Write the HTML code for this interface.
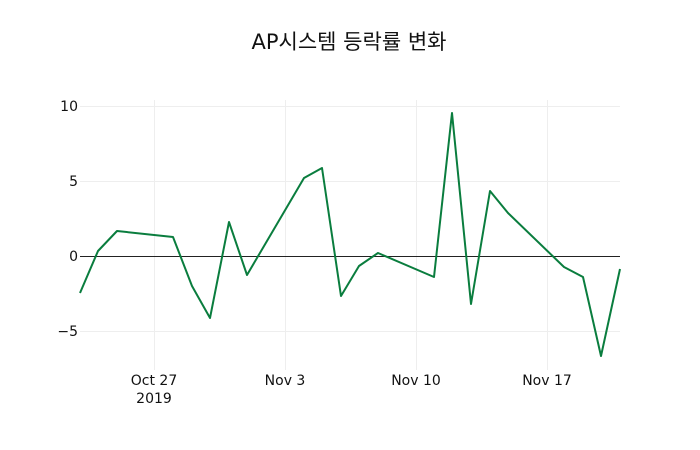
<!DOCTYPE html>
<html><head><meta charset="utf-8"><style>body{margin:0;background:#fff}svg{display:block}</style></head><body>
<svg width="700" height="450" xmlns="http://www.w3.org/2000/svg" font-family="'DejaVu Sans','Noto Sans CJK KR',sans-serif">
<rect width="700" height="450" fill="#fff"/>
<g stroke="#eee" stroke-width="1">
<line x1="154.5" y1="100" x2="154.5" y2="370"/><line x1="285.5" y1="100" x2="285.5" y2="370"/>
<line x1="416.5" y1="100" x2="416.5" y2="370"/><line x1="547.5" y1="100" x2="547.5" y2="370"/>
<line x1="80" y1="106.5" x2="620" y2="106.5"/><line x1="80" y1="181.5" x2="620" y2="181.5"/>
<line x1="80" y1="331.5" x2="620" y2="331.5"/>
</g>
<line x1="80" y1="256.5" x2="620" y2="256.5" stroke="#222" stroke-width="1"/>
<polyline fill="none" stroke="#0a7d3e" stroke-width="2" stroke-linejoin="round" points="80,293 98,251 117,231 173,237 192,286 210,318 229,222 247,275 304,178 322,168 341,296 359,266 378,253 434,277 452,113 471,304 490,191 508,213 564,267 583,277 601,356 620,269"/>
<g fill="#111" font-size="14" text-anchor="end">
<text x="78" y="111">10</text><text x="78" y="186">5</text><text x="78" y="261">0</text><text x="78" y="336">−5</text>
</g>
<g fill="#111" font-size="14" text-anchor="middle">
<text x="154" y="385">Oct 27</text><text x="154" y="403">2019</text>
<text x="285" y="385">Nov 3</text><text x="416" y="385">Nov 10</text><text x="547" y="385">Nov 17</text>
</g>
<text x="349" y="49" font-size="21" fill="#111" text-anchor="middle">AP시스템 등락률 변화</text>
</svg>
</body></html>
